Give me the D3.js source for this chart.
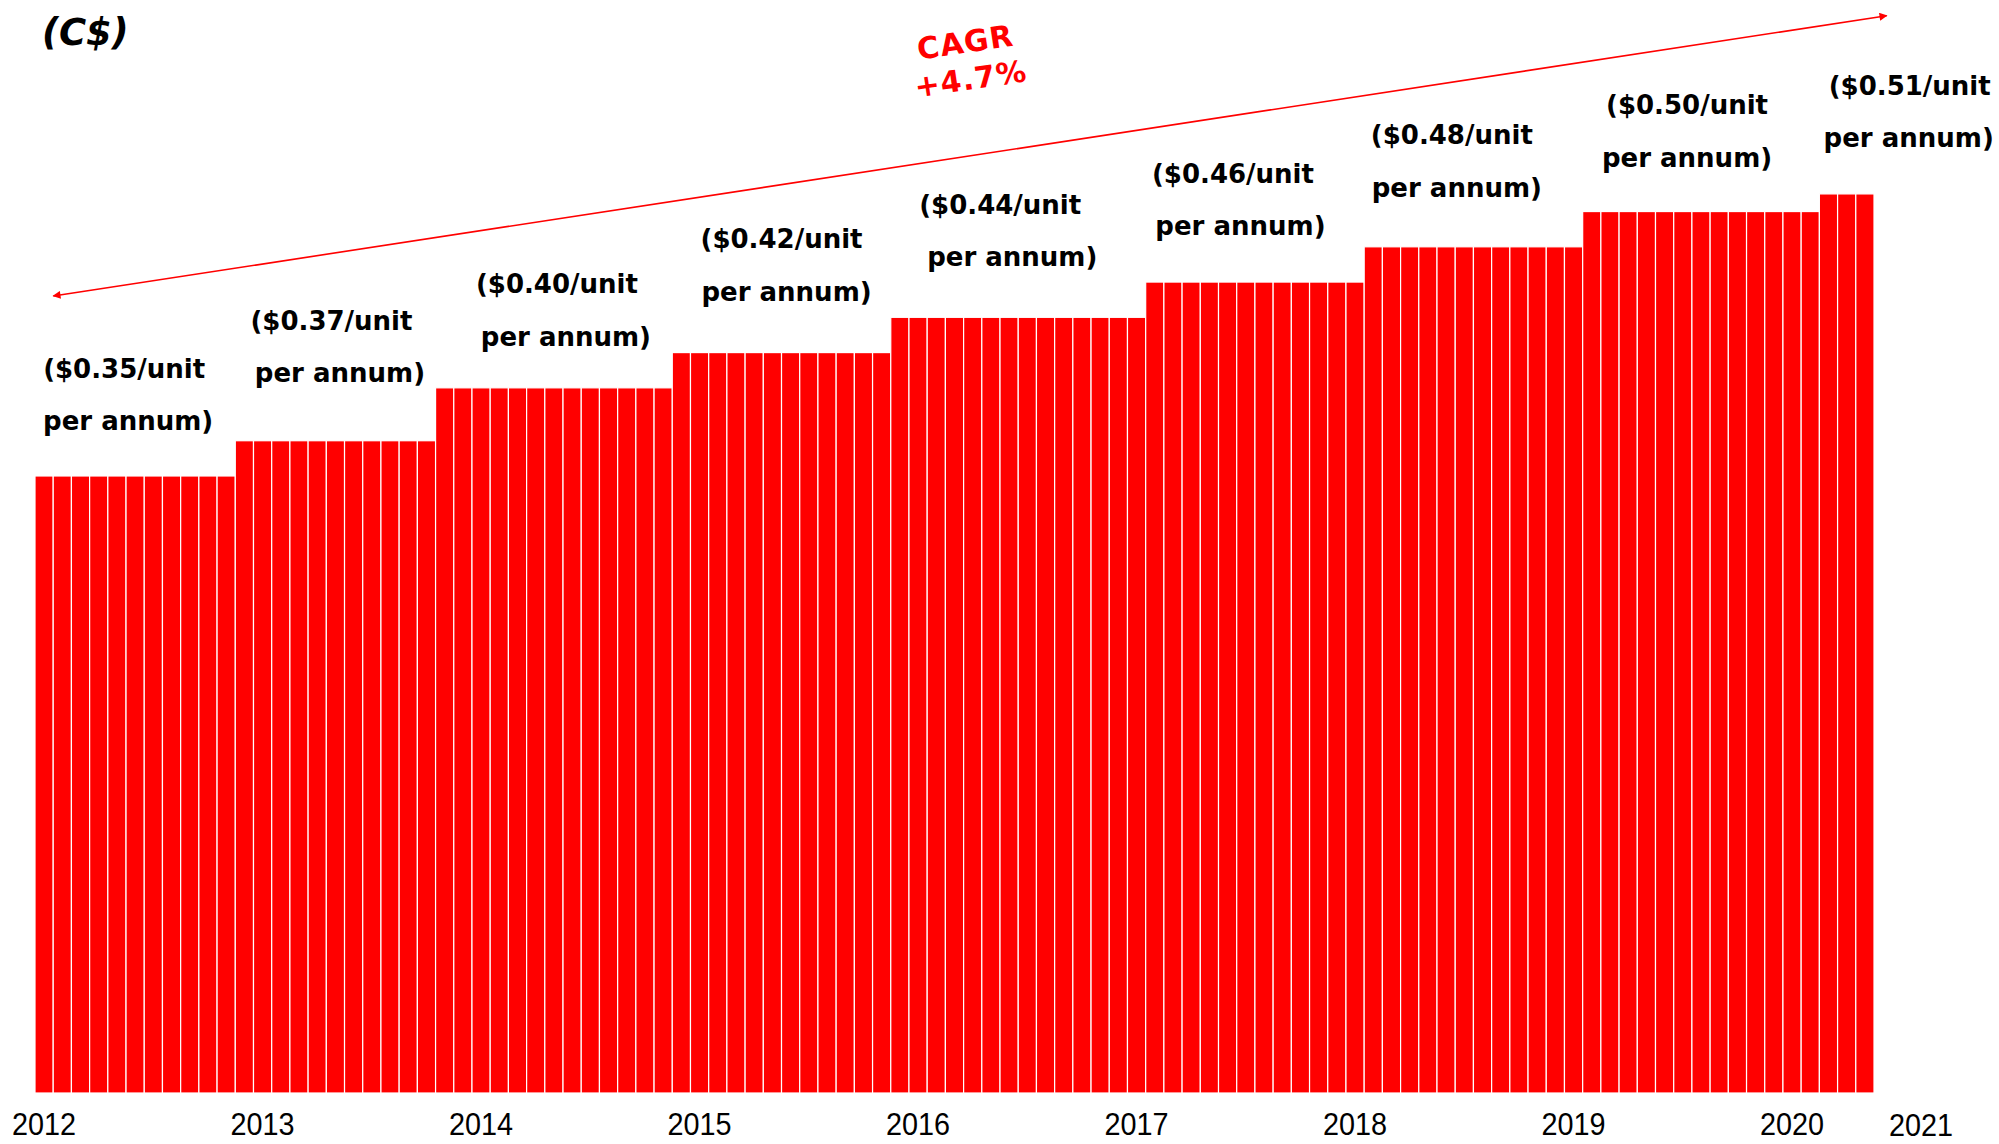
<!DOCTYPE html>
<html>
<head>
<meta charset="utf-8">
<script src="https://cdn.jsdelivr.net/npm/d3@7"></script>
<style>
  body { margin: 0; background: #fff; }
  svg { display: block; }
</style>
</head>
<body>
<svg id="chart" width="1999" height="1144"></svg>
<script>
// ---------------- DATA ----------------
// Monthly fee per unit per annum (C$), one value per monthly bar
const monthlyValues = [
  0.35, 0.35, 0.35, 0.35, 0.35, 0.35, 0.35, 0.35, 0.35, 0.35, 0.35,
  0.37, 0.37, 0.37, 0.37, 0.37, 0.37, 0.37, 0.37, 0.37, 0.37, 0.37,
  0.40, 0.40, 0.40, 0.40, 0.40, 0.40, 0.40, 0.40, 0.40, 0.40, 0.40, 0.40, 0.40,
  0.42, 0.42, 0.42, 0.42, 0.42, 0.42, 0.42, 0.42, 0.42, 0.42, 0.42, 0.42,
  0.44, 0.44, 0.44, 0.44, 0.44, 0.44, 0.44, 0.44, 0.44, 0.44, 0.44, 0.44, 0.44, 0.44,
  0.46, 0.46, 0.46, 0.46, 0.46, 0.46, 0.46, 0.46, 0.46, 0.46, 0.46, 0.46,
  0.48, 0.48, 0.48, 0.48, 0.48, 0.48, 0.48, 0.48, 0.48, 0.48, 0.48, 0.48,
  0.50, 0.50, 0.50, 0.50, 0.50, 0.50, 0.50, 0.50, 0.50, 0.50, 0.50, 0.50, 0.50,
  0.51, 0.51, 0.51
];
const levelValues = [0.35, 0.37, 0.40, 0.42, 0.44, 0.46, 0.48, 0.50, 0.51];
const levelLine1 = ["($0.35/unit", "($0.37/unit", "($0.40/unit", "($0.42/unit", "($0.44/unit",
                    "($0.46/unit", "($0.48/unit", "($0.50/unit", "($0.51/unit"];
const levelLine2 = "per annum)";
const yearLabels = ["2012", "2013", "2014", "2015", "2016", "2017", "2018", "2019", "2020"];
const lastYearLabel = "2021";
const unitLabel = "(C$)";
const cagrLines = ["CAGR", "+4.7%"];

// ---------------- LAYOUT ----------------
const RED = "#ff0000";
// label nudges: [dx line1, dx line2, dy of line2 centre above bar top]
const labelNudge = [
  [-11, -7, 55], [-4, 4.5, 67.5], [3, 12, 51], [0, 5, 61], [-18, -6, 60],
  [-22, -14.5, 56], [-21.6, -16.6, 59], [-14, -14, 54], [63, 62, 56]
];
const lineGap = 52.5;

const svg = d3.select("#chart");

const x = d3.scaleBand()
  .domain(d3.range(monthlyValues.length))
  .range([35, 1874])
  .padding(0);
const y = d3.scaleLinear().domain([0, 0.62]).range([1093, 0]);
const bw = x.bandwidth();

// bars
svg.append("g").selectAll("rect")
  .data(monthlyValues)
  .join("rect")
  .attr("x", (d, i) => x(i))
  .attr("y", d => y(d))
  .attr("width", bw)
  .attr("height", d => y(0) - y(d))
  .attr("fill", RED)
  .attr("stroke", "#fff")
  .attr("stroke-width", 1.2);

// level labels
const labelFont = "'DejaVu Sans', 'Open Sans', sans-serif";
const lg = svg.append("g")
  .attr("font-family", labelFont)
  .attr("font-weight", 700)
  .attr("font-size", 26)
  .attr("fill", "#000")
  .attr("text-anchor", "middle");

levelValues.forEach((v, k) => {
  const first = monthlyValues.indexOf(v);
  const last = monthlyValues.lastIndexOf(v);
  const cx = (x(first) + x(last) + bw) / 2;
  const top = y(v);
  const n = labelNudge[k];
  const y2 = top - n[2];
  lg.append("text").attr("x", cx + n[0]).attr("y", y2 - lineGap)
    .attr("dy", "0.35em").text(levelLine1[k]);
  lg.append("text").attr("x", cx + n[1]).attr("y", y2)
    .attr("dy", "0.35em").text(levelLine2);
});

// x axis year labels (slightly condensed)
const axisFont = "'Liberation Sans', Arial, sans-serif";
const ag = svg.append("g")
  .attr("font-family", axisFont)
  .attr("font-size", 32)
  .attr("fill", "#000")
  .attr("text-anchor", "middle");
function yearText(t, cx, cy) {
  ag.append("text")
    .attr("transform", `translate(${cx},${cy}) scale(0.9,1)`)
    .attr("dy", "0.35em")
    .text(t);
}
yearLabels.forEach((t, k) => yearText(t, x(k * 12) + bw / 2, 1124));
yearText(lastYearLabel, x(monthlyValues.length - 1) + bw / 2 + 3.08 * x.step(), 1125);

// unit label
svg.append("text")
  .attr("x", 42).attr("y", 45)
  .attr("font-family", labelFont)
  .attr("font-weight", 700)
  .attr("font-style", "italic")
  .attr("font-size", 37)
  .attr("fill", "#000")
  .text(unitLabel);

// CAGR arrow
const defs = svg.append("defs");
defs.append("marker")
  .attr("id", "arrow")
  .attr("viewBox", "0 0 10 10")
  .attr("refX", 9).attr("refY", 5)
  .attr("markerWidth", 10).attr("markerHeight", 8)
  .attr("markerUnits", "userSpaceOnUse")
  .attr("orient", "auto-start-reverse")
  .append("path").attr("d", "M0,0 L10,5 L0,10 z").attr("fill", RED);

svg.append("line")
  .attr("x1", 53.3).attr("y1", 296)
  .attr("x2", 1886.7).attr("y2", 15.7)
  .attr("stroke", RED)
  .attr("stroke-width", 1.6)
  .attr("marker-start", "url(#arrow)")
  .attr("marker-end", "url(#arrow)");

const cg = svg.append("g")
  .attr("transform", "translate(968,60.5) rotate(-8.5)")
  .attr("font-family", labelFont)
  .attr("font-weight", 700)
  .attr("font-size", 30)
  .attr("letter-spacing", 1)
  .attr("fill", RED)
  .attr("text-anchor", "middle");
cagrLines.forEach((t, k) => {
  cg.append("text").attr("x", 0).attr("y", k === 0 ? -18.5 : 18.5)
    .attr("dy", "0.35em").text(t);
});
</script>
</body>
</html>
